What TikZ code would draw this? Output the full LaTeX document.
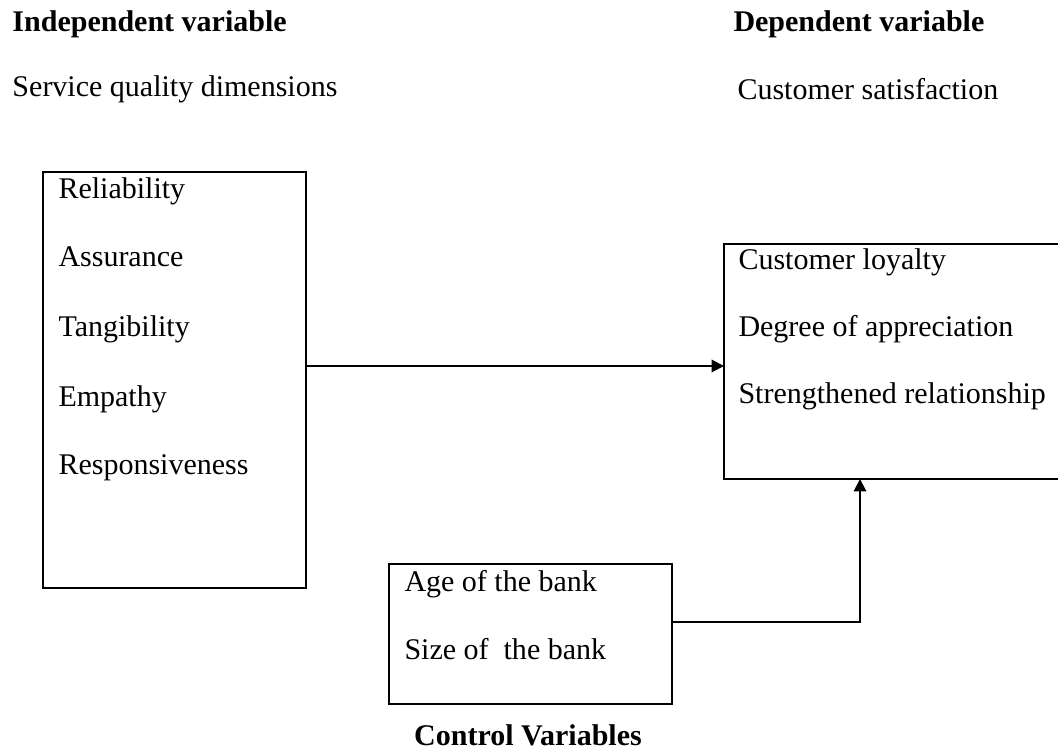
\documentclass[tikz,border=0pt]{standalone}
\usepackage{fontspec}
\setmainfont{Liberation Serif}
\usetikzlibrary{arrows.meta}
\begin{document}
\begin{tikzpicture}[x=0.4pt,y=-0.4pt,
  box/.style={draw,line width=0.8pt,inner sep=0pt},
  lbl/.style={anchor=base west,inner sep=0pt,font=\fontsize{12}{14}\selectfont},
  head/.style={anchor=base west,inner sep=0pt,font=\fontsize{12}{14}\selectfont\bfseries},
  conn/.style={line width=0.8pt,-{Triangle[length=5pt,width=5pt]}}]
\useasboundingbox (0,0) rectangle (1058,750);
% headings
\node[head] (hind) at (12,32) {Independent variable};
\node[head] (hdep) at (733,32) {Dependent variable};
\node[lbl] (sind) at (12,97) {Service quality dimensions};
\node[lbl] (sdep) at (737,100) {Customer satisfaction};
% boxes
\draw[line width=0.8pt] (43,172) rectangle (306,588);
\coordinate (lbE) at (306,366);
\draw[line width=0.8pt] (1070,244) -- (724,244) -- (724,479) -- (1070,479);
\coordinate (rbW) at (724,366);
\coordinate (rbS) at (860,479);
\draw[line width=0.8pt] (389,564) rectangle (672,704);
\coordinate (cbE) at (672,622);
% texts in left box
\node[lbl] (t1) at (58,199) {Reliability};
\node[lbl] (t2) at (58,267) {Assurance};
\node[lbl] (t3) at (58,337) {Tangibility};
\node[lbl] (t4) at (58,407) {Empathy};
\node[lbl] (t5) at (58,475) {Responsiveness};
% right box
\node[lbl] (r1) at (738,270) {Customer loyalty};
\node[lbl] (r2) at (738,337) {Degree of appreciation};
\node[lbl] (r3) at (738,404) {Strengthened relationship};
% control box
\node[lbl] (c1) at (404,592) {Age of the bank};
\node[lbl] (c2) at (404,660) {Size of\ \ the bank};
\node[head,anchor=base] (ctl) at (528,745) {Control Variables};
% connectors
\draw[conn] (lbE) -- (rbW);
\draw[conn] (cbE) -| (rbS);
\end{tikzpicture}
\end{document}
